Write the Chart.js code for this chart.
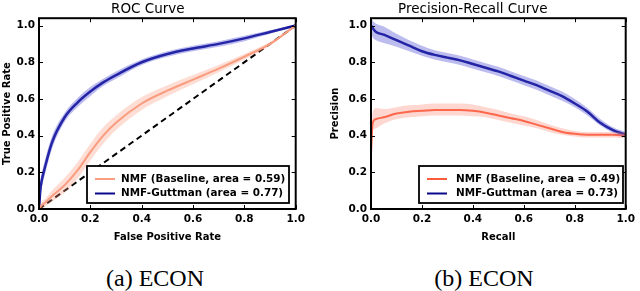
<!DOCTYPE html>
<html>
<head>
<meta charset="utf-8">
<script src="https://cdn.jsdelivr.net/npm/chart.js@4.4.1/dist/chart.umd.min.js"></script>
<style>
  body { margin: 0; background: #fff; width: 640px; height: 291px; position: relative; overflow: hidden; }
  canvas { position: absolute; top: 0; }
  .cap { position: absolute; top: 265px; width: 200px; text-align: center; color: #000;
         font: 24px 'Liberation Serif', 'Times New Roman', serif; line-height: 26px; }
</style>
</head>
<body>
<canvas id="roc" width="320" height="250" style="left:0"></canvas>
<canvas id="pr" width="320" height="250" style="left:320px"></canvas>
<div class="cap" style="left:55px">(a) ECON</div>
<div class="cap" style="left:384px">(b) ECON</div>

<script>
// ROC data
const fpr = [0, 0.005, 0.01, 0.02, 0.05, 0.1, 0.15, 0.2, 0.25, 0.3, 0.4, 0.5, 0.6, 0.7, 0.8, 0.9, 1.0];
const rocBase = [0, 0.01, 0.02, 0.03, 0.07, 0.13, 0.21, 0.31, 0.40, 0.47, 0.575, 0.645, 0.705, 0.765, 0.83, 0.90, 1.0];
const rocBaseLo = [0, 0.0, 0.0, 0.01, 0.04, 0.09, 0.165, 0.265, 0.355, 0.43, 0.54, 0.615, 0.68, 0.745, 0.815, 0.89, 1.0];
const rocBaseHi = [0, 0.02, 0.04, 0.05, 0.10, 0.17, 0.255, 0.355, 0.445, 0.51, 0.61, 0.675, 0.73, 0.785, 0.845, 0.91, 1.0];
const rocGut = [0, 0.10, 0.15, 0.21, 0.36, 0.50, 0.58, 0.64, 0.69, 0.73, 0.80, 0.845, 0.875, 0.90, 0.93, 0.965, 1.0];
const rocGutLo = [0, 0.06, 0.11, 0.17, 0.325, 0.475, 0.555, 0.615, 0.67, 0.71, 0.785, 0.83, 0.86, 0.885, 0.915, 0.955, 1.0];
const rocGutHi = [0, 0.14, 0.19, 0.25, 0.395, 0.525, 0.605, 0.665, 0.71, 0.75, 0.815, 0.86, 0.89, 0.915, 0.945, 0.975, 1.0];
const chance = [0, 1];

// Precision-recall data
const recall = [0, 0.005, 0.01, 0.02, 0.05, 0.1, 0.15, 0.2, 0.25, 0.3, 0.35, 0.4, 0.45, 0.5, 0.55, 0.6, 0.65, 0.7, 0.75, 0.8, 0.85, 0.9, 0.95, 1.0];
const prBase = [0.30, 0.45, 0.48, 0.49, 0.50, 0.52, 0.53, 0.535, 0.54, 0.54, 0.54, 0.535, 0.525, 0.51, 0.495, 0.48, 0.46, 0.44, 0.42, 0.41, 0.405, 0.405, 0.405, 0.40];
const prBaseLo = [0.25, 0.40, 0.43, 0.44, 0.465, 0.49, 0.50, 0.505, 0.51, 0.51, 0.51, 0.505, 0.50, 0.485, 0.47, 0.455, 0.44, 0.42, 0.405, 0.395, 0.39, 0.39, 0.39, 0.385];
const prBaseHi = [0.35, 0.50, 0.54, 0.55, 0.545, 0.555, 0.565, 0.57, 0.575, 0.575, 0.575, 0.57, 0.555, 0.54, 0.52, 0.505, 0.485, 0.46, 0.44, 0.425, 0.42, 0.42, 0.42, 0.415];
const prGut = [1.0, 0.99, 0.98, 0.965, 0.95, 0.92, 0.89, 0.86, 0.84, 0.825, 0.81, 0.79, 0.77, 0.75, 0.725, 0.70, 0.675, 0.645, 0.615, 0.575, 0.53, 0.47, 0.43, 0.405];
const prGutLo = [0.96, 0.94, 0.93, 0.92, 0.905, 0.885, 0.86, 0.835, 0.815, 0.80, 0.785, 0.765, 0.745, 0.725, 0.70, 0.675, 0.65, 0.62, 0.59, 0.555, 0.51, 0.455, 0.415, 0.39];
const prGutHi = [1.04, 1.03, 1.02, 1.01, 0.995, 0.955, 0.92, 0.89, 0.865, 0.85, 0.835, 0.815, 0.795, 0.775, 0.75, 0.725, 0.70, 0.67, 0.64, 0.60, 0.55, 0.49, 0.445, 0.42];

const axisTicks = [0, 0.2, 0.4, 0.6, 0.8, 1.0];

const pts = (xs, ys) => xs.map((x, i) => ({x: x, y: ys[i]}));

// frame round the plot with matplotlib style inward ticks
const framePlugin = {
  id: 'frame',
  afterDatasetsDraw(chart) {
    const {ctx, chartArea: a, scales} = chart;
    ctx.save();
    ctx.strokeStyle = '#000';
    ctx.lineWidth = 1;
    ctx.beginPath();
    scales.x.ticks.forEach(t => {
      const px = Math.round(scales.x.getPixelForValue(t.value)) + 0.5;
      ctx.moveTo(px, a.bottom); ctx.lineTo(px, a.bottom - 4);
      ctx.moveTo(px, a.top); ctx.lineTo(px, a.top + 4);
    });
    scales.y.ticks.forEach(t => {
      const py = Math.round(scales.y.getPixelForValue(t.value)) + 0.5;
      ctx.moveTo(a.left, py); ctx.lineTo(a.left + 4, py);
      ctx.moveTo(a.right, py); ctx.lineTo(a.right - 4, py);
    });
    ctx.stroke();
    ctx.lineWidth = 2;
    ctx.strokeRect(a.left, a.top, a.right - a.left, a.bottom - a.top);
    ctx.restore();
  }
};

// legend box in the lower right corner of the plot
const boxLegend = {
  id: 'boxLegend',
  afterDraw(chart, args, opts) {
    const {ctx, chartArea: a} = chart;
    const items = chart.data.datasets.filter(d => d.inLegend);
    const x0 = a.right - opts.marginRight - opts.width;
    const y0 = a.bottom - opts.marginBottom - opts.height;
    ctx.save();
    ctx.fillStyle = '#fff';
    ctx.fillRect(x0, y0, opts.width, opts.height);
    ctx.strokeStyle = '#000';
    ctx.lineWidth = 1.8;
    ctx.strokeRect(x0, y0, opts.width, opts.height);
    ctx.font = 'bold 10.4px "DejaVu Sans"';
    ctx.textBaseline = 'middle';
    items.forEach((d, i) => {
      const yy = y0 + 13 + i * 14.5;
      ctx.strokeStyle = d.borderColor;
      ctx.lineWidth = 2;
      ctx.beginPath();
      ctx.moveTo(x0 + 8, yy); ctx.lineTo(x0 + 28, yy);
      ctx.stroke();
      ctx.fillStyle = '#000';
      ctx.fillText(d.label, x0 + opts.textX, yy);
    });
    ctx.restore();
  }
};

const tickFont = {family: 'DejaVu Sans', weight: 'bold', size: 10.5};
const titleFont = {family: 'DejaVu Sans', weight: 'bold', size: 10};

function bandSets(xs, lo, hi, color) {
  return [
    {data: pts(xs, lo), borderWidth: 0, pointRadius: 0, fill: false, cubicInterpolationMode: 'monotone'},
    {data: pts(xs, hi), borderWidth: 0, pointRadius: 0, fill: '-1', backgroundColor: color, cubicInterpolationMode: 'monotone'}
  ];
}

function makeChart(id, cfg) {
  return new Chart(document.getElementById(id), {
    type: 'line',
    data: {datasets: cfg.datasets},
    options: {
      responsive: false,
      animation: false,
      layout: {padding: {left: 0, right: cfg.padRight, top: 0, bottom: 0}},
      plugins: {
        legend: {display: false},
        tooltip: {enabled: false},
        title: {
          display: true, text: cfg.title, color: '#000',
          font: {family: 'DejaVu Sans', size: 13.5, weight: '500'},
          padding: {top: 1, bottom: 1}
        },
        boxLegend: cfg.legend
      },
      scales: {
        x: {
          type: 'linear', min: 0, max: 1,
          afterBuildTicks: s => { s.ticks = axisTicks.map(v => ({value: v})); },
          afterFit: s => { s.height = 41; },
          ticks: {callback: v => v.toFixed(1), font: tickFont, color: '#000', padding: 4, maxRotation: 0, autoSkip: false},
          grid: {display: false, drawTicks: false},
          border: {display: false},
          title: {display: true, text: cfg.xTitle, font: titleFont, color: '#000', padding: {top: 0, bottom: 7}}
        },
        y: {
          type: 'linear', min: 0, max: 1.04,
          afterBuildTicks: s => { s.ticks = axisTicks.map(v => ({value: v})); },
          afterFit: s => { s.width = cfg.yWidth; },
          ticks: {callback: v => v.toFixed(1), font: tickFont, color: '#000', padding: 4, autoSkip: false},
          grid: {display: false, drawTicks: false},
          border: {display: false},
          title: {display: true, text: cfg.yTitle, font: titleFont, color: '#000', padding: {top: cfg.yTitlePad, bottom: 0}}
        }
      }
    },
    plugins: [framePlugin, boxLegend]
  });
}

makeChart('roc', {
  title: 'ROC Curve', xTitle: 'False Positive Rate', yTitle: 'True Positive Rate',
  yWidth: 39, yTitlePad: 1, padRight: 24.3,
  legend: {width: 202, height: 37, marginRight: 6.7, marginBottom: 6, textX: 34},
  datasets: [
    ...bandSets(fpr, rocBaseLo, rocBaseHi, 'rgba(250,150,120,0.32)'),
    ...bandSets(fpr, rocGutLo, rocGutHi, 'rgba(80,80,210,0.38)'),
    {label: 'NMF (Baseline, area = 0.59)', inLegend: true, data: pts(fpr, rocBase), borderColor: '#f9a082', borderWidth: 2, pointRadius: 0, fill: false, cubicInterpolationMode: 'monotone'},
    {label: 'NMF-Guttman (area = 0.77)', inLegend: true, data: pts(fpr, rocGut), borderColor: '#0a0a8c', borderWidth: 2.5, pointRadius: 0, fill: false, cubicInterpolationMode: 'monotone'},
    {data: pts(chance, chance), borderColor: '#000', borderWidth: 2, borderDash: [6, 4], pointRadius: 0, fill: false}
  ]
});

makeChart('pr', {
  title: 'Precision-Recall Curve', xTitle: 'Recall', yTitle: 'Precision',
  yWidth: 51, yTitlePad: 9, padRight: 14.3,
  legend: {width: 204, height: 37, marginRight: 2.7, marginBottom: 6, textX: 37},
  datasets: [
    ...bandSets(recall, prBaseLo, prBaseHi, 'rgba(250,130,110,0.32)'),
    ...bandSets(recall, prGutLo, prGutHi, 'rgba(80,80,210,0.38)'),
    {label: 'NMF (Baseline, area = 0.49)', inLegend: true, data: pts(recall, prBase), borderColor: '#ff5a3c', borderWidth: 2, pointRadius: 0, fill: false, cubicInterpolationMode: 'monotone'},
    {label: 'NMF-Guttman (area = 0.73)', inLegend: true, data: pts(recall, prGut), borderColor: '#0a0a8c', borderWidth: 2.5, pointRadius: 0, fill: false, cubicInterpolationMode: 'monotone'}
  ]
});
</script>
</body>
</html>
